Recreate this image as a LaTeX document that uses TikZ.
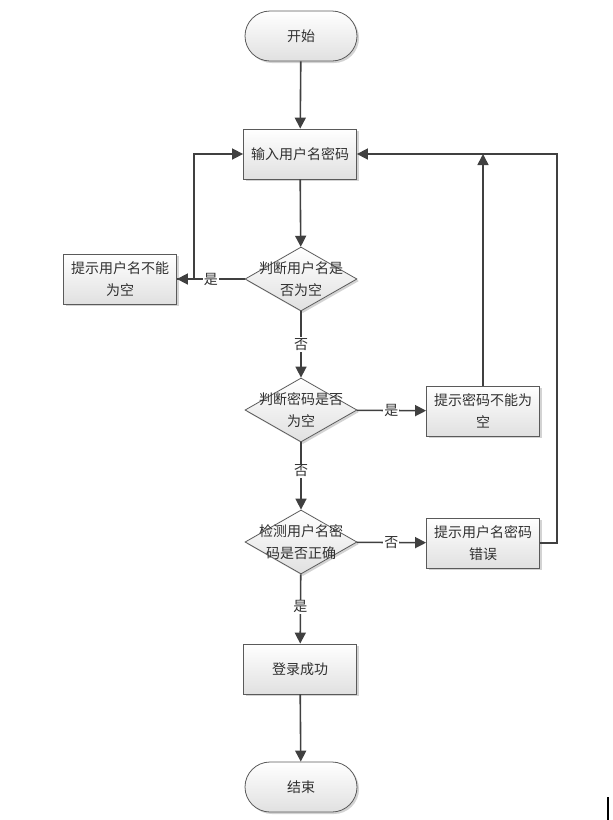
\documentclass[tikz,border=0pt]{standalone}
\usepackage{fontspec}
\setmainfont{Noto Sans CJK SC}
\usetikzlibrary{shapes.geometric,shapes.misc,shadows,arrows.meta}

\definecolor{linegray}{HTML}{404040}
\definecolor{edgegray}{HTML}{5A5A5A}
\definecolor{textgray}{HTML}{303030}

\tikzset{
    base/.style={draw=edgegray, line width=0.8pt, top color=white, bottom color=black!12,
        drop shadow={shadow xshift=2pt, shadow yshift=-2pt, opacity=0.35},
        text=textgray, font=\fontsize{14}{22}\selectfont, align=center},
    terminal/.style={base, rounded rectangle, minimum width=112pt, minimum height=50pt, inner sep=0pt},
    process/.style={base, rectangle, minimum width=113pt, minimum height=50pt, inner sep=0pt},
    decision/.style={base, diamond, minimum width=112pt, minimum height=64pt, inner sep=0pt},
    decisiontext/.style={align=center, text=textgray, font=\fontsize{14}{22}\selectfont},
    flow/.style={linegray, line width=1.6pt, -{Triangle[length=11pt, width=11pt]}},
    tag/.style={fill=white, text=textgray, font=\fontsize{14}{16}\selectfont, inner sep=1pt}
}

\begin{document}
\begin{tikzpicture}[x=1pt, y=-1pt]
    \useasboundingbox (0, 0) rectangle (613, 820);

    % main column
    \node[terminal] (start) at (301, 36) {开始};
    \node[process] (input) at (300, 154) {输入用户名密码};
    \node[decision, label={[decisiontext]center:判断用户名是\\否为空}] (chkname) at (301, 279) {};
    \node[decision, label={[decisiontext]center:判断密码是否\\为空}] (chkpwd) at (301, 410) {};
    \node[decision, label={[decisiontext]center:检测用户名密\\码是否正确}] (chkall) at (301, 542) {};
    \node[process] (ok) at (300, 669) {登录成功};
    \node[terminal] (stop) at (301, 787) {结束};

    % side boxes
    \node[process] (noname) at (120, 279) {提示用户名不能\\为空};
    \node[process] (nopwd) at (483, 411) {提示密码不能为\\空};
    \node[process] (wrong) at (483, 543) {提示用户名密码\\错误};

    \draw[flow] (start) -- (input);
    \draw[flow] (input) -- (chkname);
    \draw[flow] (chkname) -- node[tag, pos=0.5] {是} (noname);
    \draw[flow] (noname.east) -- ++(17, 0) |- (input.west);
    \draw[flow] (chkname) -- node[tag] {否} (chkpwd);
    \draw[flow] (chkpwd) -- node[tag] {是} (nopwd);
    \draw[flow] (nopwd.north) -- (nopwd.north |- input.east);
    \draw[flow] (chkpwd) -- node[tag, pos=0.42] {否} (chkall);
    \draw[flow] (chkall) -- node[tag] {否} (wrong);
    \draw[flow] (wrong.east) -- ++(17, 0) |- (input.east);
    \draw[flow] (chkall) -- node[tag, pos=0.47] {是} (ok);
    \draw[flow] (ok) -- (stop);

    % stray mark at the lower right
    \draw[black, line width=1.5pt] (608, 797) -- (608, 820);
\end{tikzpicture}
\end{document}
